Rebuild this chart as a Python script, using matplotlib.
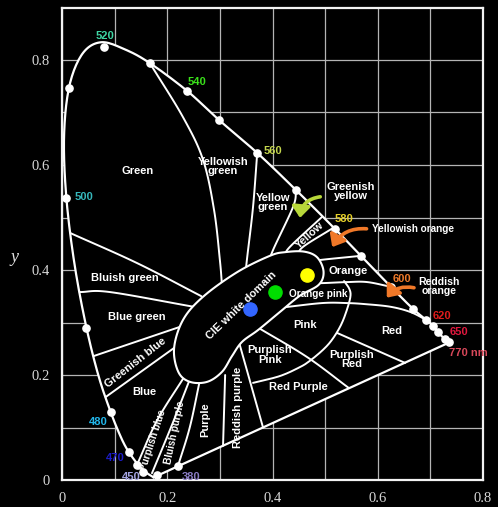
import numpy as np
import matplotlib
matplotlib.use("Agg")
import matplotlib.pyplot as plt
from matplotlib.patches import FancyArrowPatch

# ---------------- data ----------------
# spectral locus (x, y), from 380 nm end around to 770 nm
locus_x = [0.1741, 0.1644, 0.1566, 0.1440, 0.1241, 0.1096, 0.0913, 0.0687, 0.0454, 0.0235,
           0.0082, 0.0039, 0.0139, 0.0389, 0.0743, 0.120, 0.167, 0.238, 0.298, 0.371,
           0.445, 0.519, 0.568, 0.625, 0.667, 0.692, 0.705, 0.715, 0.728, 0.736]
locus_y = [0.0050, 0.0109, 0.0177, 0.0297, 0.0578, 0.0868, 0.1327, 0.2007, 0.2950, 0.4127,
           0.5384, 0.6548, 0.7502, 0.8120, 0.8338, 0.820, 0.794, 0.741, 0.686, 0.623,
           0.552, 0.478, 0.427, 0.368, 0.326, 0.305, 0.294, 0.281, 0.268, 0.262]

# white marker dots on the locus
dot_x = [0.013, 0.080, 0.167, 0.238, 0.298, 0.371, 0.445, 0.519, 0.568, 0.625, 0.667,
         0.692, 0.705, 0.715, 0.728, 0.736, 0.0076, 0.046, 0.093, 0.127, 0.143, 0.154,
         0.181, 0.2205]
dot_y = [0.747, 0.825, 0.794, 0.741, 0.686, 0.623, 0.552, 0.478, 0.427, 0.368, 0.326,
         0.305, 0.294, 0.281, 0.268, 0.262, 0.537, 0.290, 0.130, 0.053, 0.029, 0.015,
         0.009, 0.027]

# wavelength labels
wl_text = ["520", "540", "560", "580", "600", "620", "650", "770 nm",
           "500", "480", "470", "450", "380"]
wl_x = [0.0817, 0.257, 0.401, 0.536, 0.646, 0.722, 0.755, 0.772, 0.042, 0.068, 0.101, 0.131, 0.245]
wl_y = [0.846, 0.758, 0.627, 0.497, 0.383, 0.312, 0.282, 0.242, 0.539, 0.110, 0.042, 0.006, 0.006]
wl_color = ["#3fd6a4", "#3ae01a", "#c4d64e", "#e6d02a", "#ee7a2a", "#e01c1c", "#e0183e",
            "#d8485a", "#36b8bc", "#22b6ea", "#1c1cc8", "#a4a4e2", "#8a7cc4"]

# CIE white domain outline
white_x = [0.497, 0.485, 0.460, 0.424, 0.395, 0.333, 0.268, 0.230, 0.213, 0.221, 0.243,
           0.276, 0.304, 0.323, 0.342, 0.373, 0.414, 0.452, 0.488]
white_y = [0.397, 0.424, 0.435, 0.434, 0.427, 0.396, 0.349, 0.305, 0.251, 0.206, 0.187,
           0.187, 0.206, 0.236, 0.263, 0.286, 0.320, 0.351, 0.372]

# colour-name boundaries
bnd_green_yellowishgreen = ([0.167, 0.230, 0.268, 0.289, 0.300, 0.304], [0.794, 0.691, 0.610, 0.514, 0.419, 0.371])
bnd_yellowishgreen_yellowgreen = ([0.371, 0.363, 0.352, 0.346], [0.623, 0.520, 0.425, 0.371])
bnd_yellowgreen_greenishyellow = ([0.445, 0.439, 0.401, 0.392], [0.552, 0.520, 0.438, 0.410])
bnd_greenishyellow_yellow = ([0.494, 0.433, 0.424], [0.501, 0.444, 0.427])
bnd_yellow_yellowishorange = ([0.515, 0.458, 0.449], [0.480, 0.444, 0.427])
bnd_yellowishorange_orange = ([0.568, 0.490, 0.471], [0.427, 0.419, 0.415])
bnd_orange_reddishorange = ([0.625, 0.580, 0.542, 0.494, 0.470], [0.368, 0.377, 0.377, 0.375, 0.375])
bnd_red_top = ([0.414, 0.494, 0.542, 0.576, 0.624, 0.662, 0.692], [0.328, 0.337, 0.337, 0.335, 0.330, 0.320, 0.305])
bnd_pink_arc = ([0.536, 0.546, 0.548, 0.540, 0.529, 0.513, 0.496, 0.471, 0.452, 0.414, 0.363],
                [0.379, 0.364, 0.349, 0.320, 0.293, 0.267, 0.248, 0.227, 0.215, 0.198, 0.185])
bnd_pink_purplishpink = ([0.373, 0.466, 0.544], [0.290, 0.234, 0.176])
bnd_red_purplishred = ([0.523, 0.652], [0.280, 0.223])
bnd_reddishpurple_redpurple = ([0.3365, 0.382], [0.262, 0.100])
bnd_purple_reddishpurple = ([0.310, 0.306], [0.200, 0.065])
bnd_bluishpurple_purple = ([0.262, 0.243, 0.2205], [0.190, 0.101, 0.027])
bnd_purplishblue_bluishpurple = ([0.243, 0.209, 0.171], [0.192, 0.105, 0.013])
bnd_blue_purplishblue = ([0.232, 0.181, 0.143], [0.196, 0.114, 0.030])
bnd_greenishblue_blue = ([0.0829, 0.222], [0.158, 0.258])
bnd_bluegreen_greenishblue = ([0.060, 0.228], [0.236, 0.293])
bnd_bluishgreen_bluegreen = ([0.0337, 0.091, 0.250], [0.358, 0.358, 0.330])
bnd_green_bluishgreen = ([0.0166, 0.143, 0.265], [0.470, 0.413, 0.350])

boundaries = [bnd_green_yellowishgreen, bnd_yellowishgreen_yellowgreen,
              bnd_yellowgreen_greenishyellow, bnd_greenishyellow_yellow,
              bnd_yellow_yellowishorange, bnd_yellowishorange_orange,
              bnd_orange_reddishorange, bnd_red_top, bnd_pink_arc,
              bnd_pink_purplishpink, bnd_red_purplishred, bnd_reddishpurple_redpurple,
              bnd_purple_reddishpurple, bnd_bluishpurple_purple,
              bnd_purplishblue_bluishpurple, bnd_blue_purplishblue,
              bnd_greenishblue_blue, bnd_bluegreen_greenishblue,
              bnd_bluishgreen_bluegreen, bnd_green_bluishgreen]

# region labels: text, x, y, rotation, size
reg_text = ["Green", "Yellowish\ngreen", "Yellow\ngreen", "Greenish\nyellow", "Yellow",
            "Yellowish orange", "Orange", "Reddish\norange", "Orange pink", "Pink", "Red",
            "Purplish\nRed", "Purplish\nPink", "Red Purple", "Reddish purple", "Purple",
            "Bluish purple", "Purplish blue", "Blue", "Greenish blue", "Blue green",
            "Bluish green", "CIE white domain"]
reg_x = [0.143, 0.306, 0.401, 0.548, 0.471, 0.667, 0.544, 0.717, 0.487, 0.462, 0.627,
         0.551, 0.395, 0.449, 0.335, 0.272, 0.215, 0.173, 0.156, 0.139, 0.142, 0.120, 0.340]
reg_y = [0.589, 0.597, 0.528, 0.549, 0.467, 0.478, 0.398, 0.368, 0.354, 0.295, 0.284,
         0.229, 0.238, 0.177, 0.139, 0.114, 0.091, 0.076, 0.168, 0.223, 0.311, 0.385, 0.333]
reg_rot = [0, 0, 0, 0, 42, 0, 0, 0, 0, 0, 0, 0, 0, 0, 90, 90, 78, 72, 0, 38, 0, 0, 44]
reg_size = [8, 8, 8, 8, 8, 7.2, 8, 7.6, 7.2, 8, 8, 8, 8, 8, 8, 8, 7.2, 7.2, 8, 8, 8, 8, 8]

# chromaticity points of the three coloured dots
pt_x = [0.357, 0.405, 0.466]
pt_y = [0.326, 0.358, 0.390]
pt_color = ["#3366ff", "#00dd00", "#ffff00"]

# arrows: start, end, colour, curvature
arr_start = [(0.496, 0.540), (0.584, 0.478), (0.674, 0.365)]
arr_end = [(0.452, 0.494), (0.511, 0.439), (0.614, 0.343)]
arr_color = ["#b8d83a", "#f07828", "#f07828"]
arr_rad = [0.45, 0.35, 0.35]


# ---------------- helpers ----------------
def catmull(xs, ys, n=16, closed=False):
    p = np.column_stack([xs, ys]).astype(float)
    if closed:
        p = np.vstack([p[-1], p, p[0], p[1]])
    else:
        p = np.vstack([2 * p[0] - p[1], p, 2 * p[-1] - p[-2]])
    out = []
    for i in range(1, len(p) - 2):
        p0, p1, p2, p3 = p[i - 1], p[i], p[i + 1], p[i + 2]
        t = np.linspace(0, 1, n, endpoint=False)[:, None]
        seg = 0.5 * ((2 * p1) + (-p0 + p2) * t + (2 * p0 - 5 * p1 + 4 * p2 - p3) * t ** 2
                     + (-p0 + 3 * p1 - 3 * p2 + p3) * t ** 3)
        out.append(seg)
    out.append(p[-2][None, :])
    out = np.vstack(out)
    return out[:, 0], out[:, 1]


# ---------------- figure ----------------
W, H = 498, 507
fig = plt.figure(figsize=(W / 100, H / 100), dpi=100, facecolor="black")
ax = fig.add_axes([62 / W, 27 / H, 421 / W, 472.5 / H], facecolor="black")
ax.set_xlim(0, 0.8)
ax.set_ylim(0, 0.9)

for s in ax.spines.values():
    s.set_color("#f2f2f2")
    s.set_linewidth(1.6)

ax.set_xticks([0, 0.2, 0.4, 0.6, 0.8])
ax.set_xticklabels(["0", "0.2", "0.4", "0.6", "0.8"])
ax.set_yticks([0, 0.2, 0.4, 0.6, 0.8])
ax.set_yticklabels(["0", "0.2", "0.4", "0.6", "0.8"])
ax.set_xticks(np.arange(0.1, 0.8, 0.1), minor=True)
ax.set_yticks(np.arange(0.1, 0.9, 0.1), minor=True)
ax.tick_params(which="both", length=0, colors="#d8d8d8")
ax.tick_params(axis="x", pad=9)
ax.tick_params(axis="y", pad=9)
for lab in ax.get_xticklabels() + ax.get_yticklabels():
    lab.set_family("Liberation Serif")
    lab.set_fontsize(10.5)
    lab.set_color("#d8d8d8")
ax.grid(True, which="both", color="#b4b4b4", linewidth=0.9)
ax.set_axisbelow(True)

fig.text(14 / W, 1 - 258 / H, "y", family="Liberation Serif", style="italic",
         fontsize=13, color="#e0e0e0", ha="center", va="center")

# locus (smooth) + purple line
lx, ly = catmull(locus_x, locus_y, n=12)
ax.fill(np.r_[lx, lx[0]], np.r_[ly, ly[0]], color="black", zorder=1, lw=0)
ax.plot(lx, ly, color="white", lw=1.6, zorder=4, solid_capstyle="round")
ax.plot([locus_x[-1], locus_x[0]], [locus_y[-1], locus_y[0]], color="white", lw=1.6, zorder=4)

# boundaries
for bx, by in boundaries:
    if len(bx) > 2:
        sx, sy = catmull(bx, by, n=14)
    else:
        sx, sy = bx, by
    ax.plot(sx, sy, color="white", lw=1.4, zorder=2, solid_capstyle="round")

# white domain
wx, wy = catmull(white_x, white_y, n=12, closed=True)
ax.fill(wx, wy, facecolor="black", edgecolor="white", lw=1.5, zorder=3)

# locus dots
ax.plot(dot_x, dot_y, "o", ms=5.2, color="white", mec="white", zorder=5, lw=0)

# coloured points
for x, y, c in zip(pt_x, pt_y, pt_color):
    ax.plot(x, y, "o", ms=9.5, color=c, mec=c, zorder=6)

# wavelength labels
for t, x, y, c in zip(wl_text, wl_x, wl_y, wl_color):
    ax.text(x, y, t, color=c, fontsize=8, fontweight="bold", family="Liberation Sans",
            ha="center", va="center", zorder=7)

# region labels
for t, x, y, r, s in zip(reg_text, reg_x, reg_y, reg_rot, reg_size):
    ax.text(x, y, t, color="white", fontsize=s, fontweight="bold", family="Liberation Sans",
            ha="center", va="center", rotation=r, rotation_mode="anchor",
            linespacing=0.9, zorder=7)

# arrows
for st, en, c, r in zip(arr_start, arr_end, arr_color, arr_rad):
    a = FancyArrowPatch(st, en, connectionstyle=f"arc3,rad={r}",
                        arrowstyle="-|>,head_length=5.5,head_width=4.5",
                        color=c, lw=2.6, zorder=7, mutation_scale=1.2)
    ax.add_patch(a)

fig.savefig("out.png", dpi=100, facecolor="black")
